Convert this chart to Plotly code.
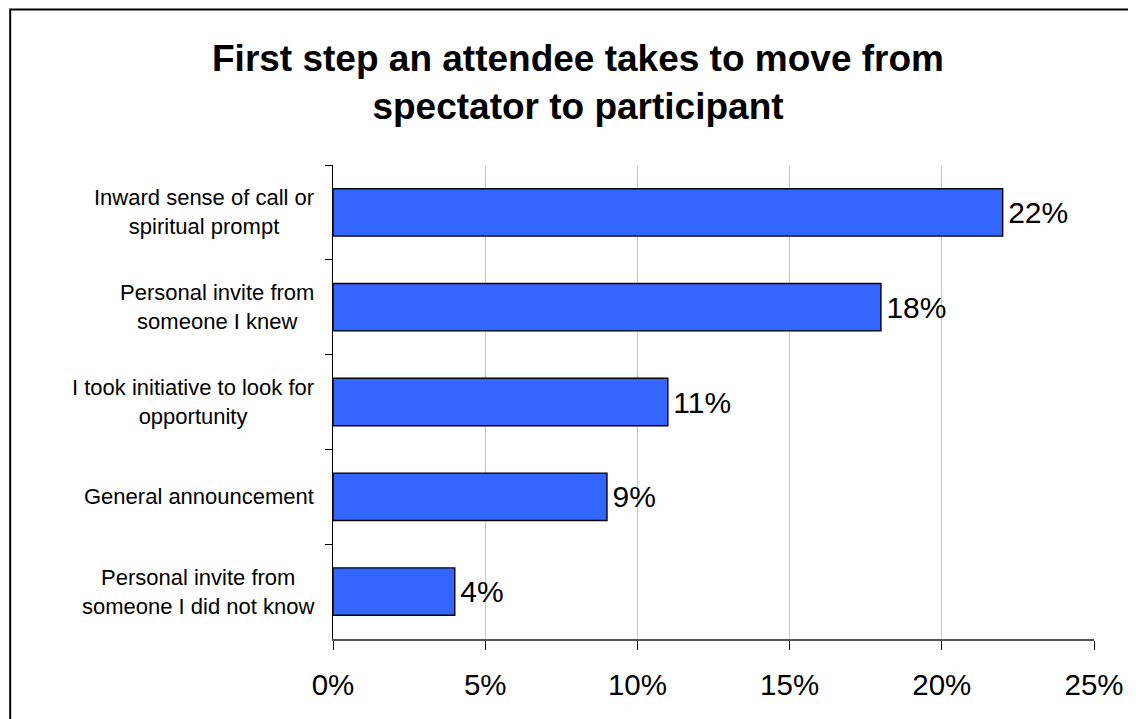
import plotly.graph_objects as go

categories = [
    "Inward sense of call or<br>spiritual prompt",
    "Personal invite from<br>someone I knew",
    "I took initiative to look for<br>opportunity",
    "General announcement",
    "Personal invite from<br>someone I did not know",
]
values = [0.22, 0.18, 0.11, 0.09, 0.04]
x_ticks = [0, 0.05, 0.10, 0.15, 0.20, 0.25]
title_text = "First step an attendee takes to move from<br>spectator to participant"

FONT = "Liberation Sans, Arial, sans-serif"
OFF = 8  # page body margin offset
W, H = 1136 - OFF, 719 - OFF
L, R, T, B = 333 - OFF, 38, 165 - OFF, 80
pw, ph = W - L - R, H - T - B

fig = go.Figure()
fig.add_trace(go.Bar(
    y=categories, x=values, orientation="h",
    width=0.5,
    marker=dict(color="#3366FF", line=dict(color="black", width=1.4)),
    texttemplate="\u200a%{x:.0%}", textposition="outside",
    textfont=dict(family=FONT, size=30, color="black"),
    constraintext="none", cliponaxis=False,
    hoverinfo="skip",
))

for c in categories:
    fig.add_annotation(
        x=0, xref="paper", y=c, yref="y", text=c, showarrow=False,
        xanchor="right", yanchor="middle", align="center", xshift=-17,
        font=dict(family=FONT, size=22, color="black"),
    )

def px_x(p):
    return (p - OFF - L) / pw

def px_y(p):
    return (H - B - (p - OFF)) / ph

fig.add_shape(type="rect", xref="paper", yref="paper",
              x0=px_x(8.5), x1=px_x(1150), y0=px_y(9.5), y1=px_y(740),
              line=dict(color="black", width=2), fillcolor="rgba(0,0,0,0)",
              layer="above")

fig.update_layout(
    width=W, height=H,
    margin=dict(l=L, r=R, t=T, b=B),
    paper_bgcolor="white", plot_bgcolor="white",
    showlegend=False,
    title=dict(text=title_text, x=(578 - OFF) / W, xanchor="center",
               y=1 - 63 / H, yanchor="top", yref="container",
               font=dict(family=FONT, size=37, color="black", weight="bold")),
    xaxis=dict(
        range=[0, 0.25], tickvals=x_ticks, tickformat=".0%",
        showgrid=True, gridcolor="#c8c8c8", gridwidth=1,
        showline=True, linecolor="#555555", linewidth=1.5,
        ticks="outside", ticklen=9, tickcolor="black", tickwidth=1.2,
        tickfont=dict(family=FONT, size=29.5, color="black"),
        ticklabelstandoff=10, zeroline=False, fixedrange=True,
    ),
    yaxis=dict(
        autorange="reversed", showticklabels=False,
        showgrid=False, showline=True, linecolor="black", linewidth=1.2,
        ticks="outside", ticklen=7, tickcolor="black", tickwidth=1.2,
        tickson="boundaries", zeroline=False, fixedrange=True,
    ),
)

fig.write_html("out.html")
